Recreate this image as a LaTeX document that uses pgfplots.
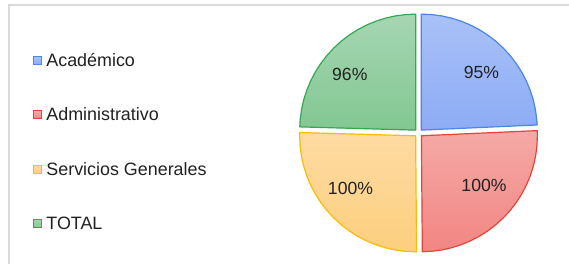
\documentclass[border=0pt]{standalone}
\usepackage{fontspec}
\setmainfont{Liberation Sans}
\usepackage{pgfplots}
\pgfplotsset{compat=1.18}
\usepgfplotslibrary{polar}
\definecolor{blueE}{HTML}{4A86E8}\definecolor{blueT}{HTML}{A9C1F8}\definecolor{blueB}{HTML}{8DACF5}
\definecolor{redE}{HTML}{EA4335}\definecolor{redT}{HTML}{F5A9A6}\definecolor{redB}{HTML}{F28683}
\definecolor{yelE}{HTML}{FBBC04}\definecolor{yelT}{HTML}{FEDBA3}\definecolor{yelB}{HTML}{FDCF7E}
\definecolor{grnE}{HTML}{34A853}\definecolor{grnT}{HTML}{A6D6B2}\definecolor{grnB}{HTML}{82C792}
\definecolor{frame}{HTML}{DADADA}
\begin{document}
\begin{tikzpicture}
\useasboundingbox (0,0) rectangle (569bp,264bp);
\draw[frame, line width=1.6bp] (8.8bp,-2bp) -- (8.8bp,259.2bp) -- (571bp,259.2bp);
\begin{polaraxis}[
  at={(418.5bp,131bp)}, anchor=center,
  scale only axis, width=232bp, height=232bp,
  xmin=0, xmax=360, ymin=0, ymax=1,
  hide axis, clip=false,
  legend image code/.code={\draw[#1, line width=0.9bp] (0bp,-4bp) rectangle (8bp,4bp);},
  legend cell align=left,
  legend style={at={(axis description cs:-1.1616,0.8450)}, anchor=north west,
    draw=none, fill=none, inner sep=0pt, outer sep=0pt,
    row sep=40bp, column sep=4.5bp,
    font=\fontsize{17.9bp}{21bp}\selectfont, text=black!87,
    nodes={inner sep=0pt}},
]
\addlegendimage{draw=blueE, top color=blueT, bottom color=blueB}
\addlegendentry{Académico}
\addlegendimage{draw=redE, top color=redT, bottom color=redB}
\addlegendentry{Administrativo}
\addlegendimage{draw=yelE, top color=yelT, bottom color=yelB}
\addlegendentry{Servicios Generales}
\addlegendimage{draw=grnE, top color=grnT, bottom color=grnB}
\addlegendentry{TOTAL}
% Académico 95 -> 90 to 2.532 deg
\addplot[forget plot, line width=1.2bp, draw=blueE, top color=blueT, bottom color=blueB, xshift=2.77bp, yshift=2.89bp, line join=round]
 coordinates {(90,0) (90,1) (85,1) (80,1) (75,1) (70,1) (65,1) (60,1) (55,1) (50,1) (45,1) (40,1) (35,1) (30,1) (25,1) (20,1) (15,1) (10,1) (5,1) (2.532,1) (2.532,0)} -- cycle;
% Administrativo 100 -> 2.532 to 270.46 deg
\addplot[forget plot, line width=1.2bp, draw=redE, top color=redT, bottom color=redB, xshift=2.90bp, yshift=-2.75bp, line join=round]
 coordinates {(2.532,0) (2.532,1) (0,1) (355,1) (350,1) (345,1) (340,1) (335,1) (330,1) (325,1) (320,1) (315,1) (310,1) (305,1) (300,1) (295,1) (290,1) (285,1) (280,1) (275,1) (270.46,1) (270.46,0)} -- cycle;
% Servicios Generales 100 -> 270.46 to 178.389 deg
\addplot[forget plot, line width=1.2bp, draw=yelE, top color=yelT, bottom color=yelB, xshift=-2.86bp, yshift=-2.80bp, line join=round]
 coordinates {(270.46,0) (270.46,1) (265,1) (260,1) (255,1) (250,1) (245,1) (240,1) (235,1) (230,1) (225,1) (220,1) (215,1) (210,1) (205,1) (200,1) (195,1) (190,1) (185,1) (180,1) (178.389,1) (178.389,0)} -- cycle;
% TOTAL 96 -> 178.389 to 90 deg
\addplot[forget plot, line width=1.2bp, draw=grnE, top color=grnT, bottom color=grnB, xshift=-2.79bp, yshift=2.87bp, line join=round]
 coordinates {(178.389,0) (178.389,1) (175,1) (170,1) (165,1) (160,1) (155,1) (150,1) (145,1) (140,1) (135,1) (130,1) (125,1) (120,1) (115,1) (110,1) (105,1) (100,1) (95,1) (90,1) (90,0)} -- cycle;
\end{polaraxis}
\begin{scope}[every node/.style={font=\fontsize{17.6bp}{21bp}\selectfont, text=black!87, anchor=base, inner sep=0pt}]
\node at (481.5bp,185bp) {95\%};
\node at (484bp,72.3bp) {100\%};
\node at (350.5bp,69.7bp) {100\%};
\node at (349.8bp,183.3bp) {96\%};
\end{scope}
\end{tikzpicture}
\end{document}
